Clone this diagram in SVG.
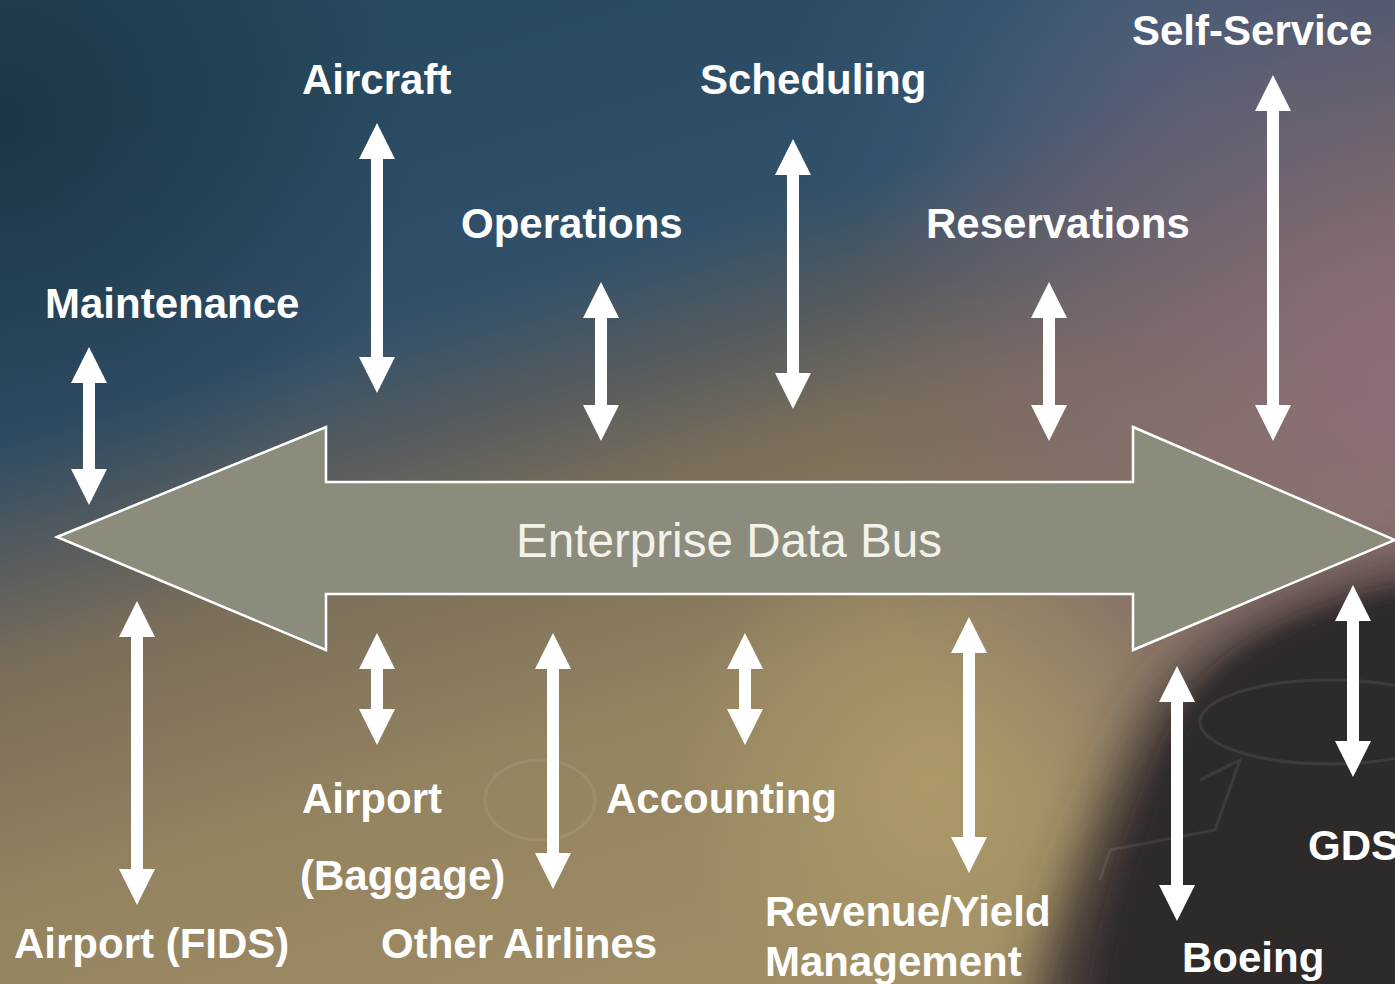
<svg xmlns="http://www.w3.org/2000/svg" width="1395" height="984" viewBox="0 0 1395 984">
  <defs>
    <linearGradient id="bg" gradientUnits="userSpaceOnUse" x1="500" y1="0" x2="800" y2="1000">
      <stop offset="0" stop-color="#284a60"/>
      <stop offset="0.26" stop-color="#31506a"/>
      <stop offset="0.38" stop-color="#575c5e"/>
      <stop offset="0.48" stop-color="#7a6e5a"/>
      <stop offset="0.70" stop-color="#948360"/>
      <stop offset="1" stop-color="#a08e66"/>
    </linearGradient>
    <radialGradient id="tl" gradientUnits="userSpaceOnUse" cx="0" cy="120" r="420">
      <stop offset="0" stop-color="#152a34" stop-opacity="0.6"/>
      <stop offset="1" stop-color="#152a34" stop-opacity="0"/>
    </radialGradient>
    <radialGradient id="pink" gradientUnits="userSpaceOnUse" cx="1395" cy="380" r="560">
      <stop offset="0" stop-color="#8e6e7a" stop-opacity="0.9"/>
      <stop offset="0.6" stop-color="#7e6672" stop-opacity="0.5"/>
      <stop offset="1" stop-color="#706070" stop-opacity="0"/>
    </radialGradient>
    <radialGradient id="glow" gradientUnits="userSpaceOnUse" cx="930" cy="780" r="260">
      <stop offset="0" stop-color="#b4a06c" stop-opacity="0.7"/>
      <stop offset="1" stop-color="#b4a06c" stop-opacity="0"/>
    </radialGradient>
    <radialGradient id="tr" gradientUnits="userSpaceOnUse" cx="1150" cy="40" r="360">
      <stop offset="0" stop-color="#3f5c7c" stop-opacity="0.8"/>
      <stop offset="1" stop-color="#3f5c7c" stop-opacity="0"/>
    </radialGradient>
    <filter id="soft" x="-30%" y="-30%" width="160%" height="160%">
      <feGaussianBlur stdDeviation="26"/>
    </filter>
    <filter id="soft2" x="-30%" y="-30%" width="160%" height="160%">
      <feGaussianBlur stdDeviation="8"/>
    </filter>
    <style>
      .lbl { font-family: "Liberation Sans", Arial, Helvetica, sans-serif; font-weight: bold; font-size: 42px; fill: #ffffff; }
      .bus { font-family: "Liberation Sans", Arial, Helvetica, sans-serif; font-size: 48px; fill: #f2f2ea; }
      .conn { fill: #ffffff; }
      .busShape { fill: #8c8c7c; stroke: #ffffff; stroke-width: 2.5; stroke-linejoin: miter; }
      .faint { fill: none; stroke: #ffffff; stroke-opacity: 0.08; stroke-width: 3; }
    </style>
  </defs>

  <!-- background -->
  <rect x="0" y="0" width="1395" height="984" fill="url(#bg)"/>
  <rect x="0" y="0" width="1395" height="984" fill="url(#tl)"/>
  <rect x="0" y="0" width="1395" height="984" fill="url(#tr)"/>
  <rect x="0" y="0" width="1395" height="984" fill="url(#pink)"/>
  <rect x="0" y="0" width="1395" height="984" fill="url(#glow)"/>
  <path d="M1440,560 C1290,590 1190,640 1140,730 C1100,810 1060,900 1030,1030 L1440,1030 Z" fill="#3a3230" filter="url(#soft)"/>
  <path d="M1440,585 C1300,610 1215,650 1175,735 C1140,810 1110,900 1090,1030 L1440,1030 Z" fill="#2e2929" filter="url(#soft2)"/>
  <g id="background-lines">
    <ellipse class="faint" cx="1330" cy="722" rx="130" ry="42"/>
    <path class="faint" d="M1200,780 L1240,760 L1215,830 L1110,850 L1100,880"/>
    <ellipse class="faint" cx="540" cy="800" rx="55" ry="40" stroke-opacity="0.06"/>
  </g>

  <!-- bus -->
  <g id="bus">
    <path class="busShape" d="M57,537 L326,427 L326,482 L1133,482 L1133,427 L1395,540 L1133,650 L1133,594 L326,594 L326,650 Z"/>
    <text class="bus" x="516" y="557" textLength="426" lengthAdjust="spacingAndGlyphs">Enterprise Data Bus</text>
  </g>

  <!-- connectors -->
  <g id="connectors">
    <path class="conn" d="M89,347 L107,383 L95,383 L95,469 L107,469 L89,505 L71,469 L83,469 L83,383 L71,383 Z"/>
    <path class="conn" d="M377,123 L395,159 L383,159 L383,357 L395,357 L377,393 L359,357 L371,357 L371,159 L359,159 Z"/>
    <path class="conn" d="M601,282 L619,318 L607,318 L607,405 L619,405 L601,441 L583,405 L595,405 L595,318 L583,318 Z"/>
    <path class="conn" d="M793,139 L811,175 L799,175 L799,373 L811,373 L793,409 L775,373 L787,373 L787,175 L775,175 Z"/>
    <path class="conn" d="M1049,282 L1067,318 L1055,318 L1055,405 L1067,405 L1049,441 L1031,405 L1043,405 L1043,318 L1031,318 Z"/>
    <path class="conn" d="M1273,75 L1291,111 L1279,111 L1279,405 L1291,405 L1273,441 L1255,405 L1267,405 L1267,111 L1255,111 Z"/>
    <path class="conn" d="M137,601 L155,637 L143,637 L143,869 L155,869 L137,905 L119,869 L131,869 L131,637 L119,637 Z"/>
    <path class="conn" d="M377,633 L395,669 L383,669 L383,709 L395,709 L377,745 L359,709 L371,709 L371,669 L359,669 Z"/>
    <path class="conn" d="M553,633 L571,669 L559,669 L559,853 L571,853 L553,889 L535,853 L547,853 L547,669 L535,669 Z"/>
    <path class="conn" d="M745,633 L763,669 L751,669 L751,709 L763,709 L745,745 L727,709 L739,709 L739,669 L727,669 Z"/>
    <path class="conn" d="M969,617 L987,653 L975,653 L975,837 L987,837 L969,873 L951,837 L963,837 L963,653 L951,653 Z"/>
    <path class="conn" d="M1177,666 L1195,702 L1183,702 L1183,885 L1195,885 L1177,921 L1159,885 L1171,885 L1171,702 L1159,702 Z"/>
    <path class="conn" d="M1353,585 L1371,621 L1359,621 L1359,741 L1371,741 L1353,777 L1335,741 L1347,741 L1347,621 L1335,621 Z"/>
  </g>

  <!-- nodes -->
  <g id="self-service"><text class="lbl" x="1132" y="45">Self-Service</text></g>
  <g id="aircraft"><text class="lbl" x="302" y="94">Aircraft</text></g>
  <g id="scheduling"><text class="lbl" x="700" y="94">Scheduling</text></g>
  <g id="operations"><text class="lbl" x="461" y="238">Operations</text></g>
  <g id="reservations"><text class="lbl" x="926" y="238">Reservations</text></g>
  <g id="maintenance"><text class="lbl" x="45" y="318">Maintenance</text></g>
  <g id="airport-baggage">
    <text class="lbl" x="302" y="813">Airport</text>
    <text class="lbl" x="300" y="890">(Baggage)</text>
  </g>
  <g id="accounting"><text class="lbl" x="606" y="813">Accounting</text></g>
  <g id="airport-fids"><text class="lbl" x="14" y="958">Airport (FIDS)</text></g>
  <g id="other-airlines"><text class="lbl" x="381" y="958">Other Airlines</text></g>
  <g id="revenue-yield">
    <text class="lbl" x="765" y="926">Revenue/Yield</text>
    <text class="lbl" x="765" y="976">Management</text>
  </g>
  <g id="boeing"><text class="lbl" x="1182" y="972">Boeing</text></g>
  <g id="gds"><text class="lbl" x="1308" y="860">GDS</text></g>
</svg>
